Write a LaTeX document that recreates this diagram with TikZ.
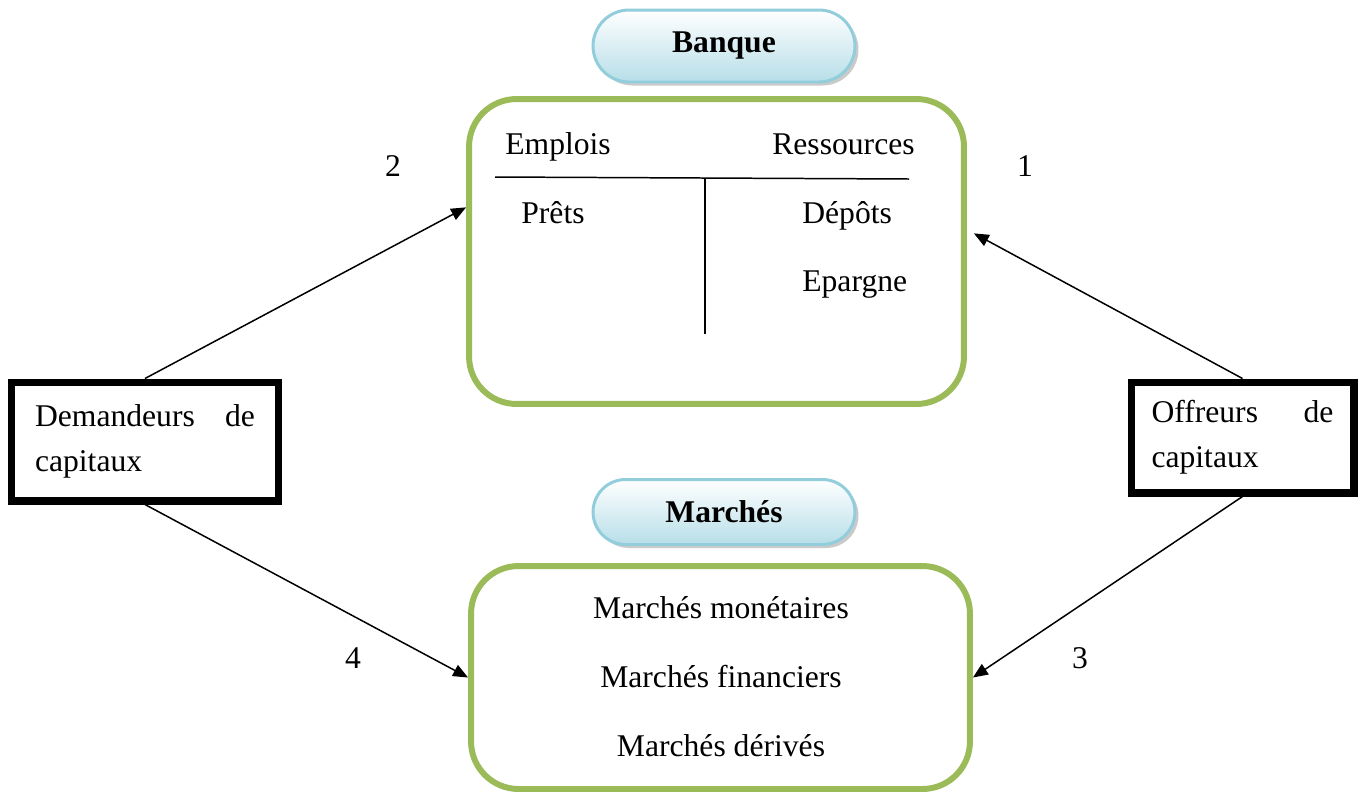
\documentclass[tikz,border=0pt]{standalone}
\usepackage{fontspec}
\setmainfont{Liberation Serif}
\usepackage{tikz}
\usetikzlibrary{arrows.meta,shadows,shapes.misc}
\definecolor{boxgreen}{HTML}{9BBB59}
\definecolor{pillblue}{HTML}{92CDDC}
\definecolor{pillfill}{HTML}{B7DEE8}

\begin{document}
\begin{tikzpicture}[x=0.02cm,y=-0.02cm,
  every node/.style={font=\fontsize{18}{25.5}\selectfont,inner sep=0pt},
  pill/.style={rounded rectangle,draw=pillblue,line width=1.7pt,top color=white,bottom color=pillfill,
    minimum width=5.24cm,font=\fontsize{18}{25.5}\selectfont\bfseries,
    drop shadow={shadow xshift=2pt,shadow yshift=-2pt,fill=black!35,opacity=0.6}},
  tbox/.style={draw=boxgreen,line width=3.4pt,rounded corners=0.95cm},
  actor/.style={draw,line width=4pt,align=left},
  flow/.style={-{Triangle[length=8.5pt,width=7pt]},line width=0.85pt},
  num/.style={anchor=base}]
\useasboundingbox (0,0) rectangle (1359,795);
\node[tbox,minimum width=9.9cm,minimum height=6.1cm] (bank) at (716.5,251.5) {};
\node[tbox,minimum width=9.98cm,minimum height=4.46cm] (mkt) at (720.5,677.5) {};
\node[pill,minimum height=1.44cm] (banque) at (724,46) {Banque};
\node[pill,minimum height=1.3cm] (marches) at (724,512) {Marchés};
\node[anchor=base west] (emplois) at (505,154) {Emplois};
\node[anchor=base west] (ressources) at (772,154) {Ressources};
\node[anchor=base west] (prets) at (521,223) {Prêts};
\node[anchor=base west] (depots) at (802,223) {Dépôts};
\node[anchor=base west] (epargne) at (802,291) {Epargne};
\draw[line width=0.85pt] (495,177) -- (909,179);
\draw[line width=0.85pt] (705,178) -- (705,334);
\node[anchor=base] (monet) at (721,618) {Marchés monétaires};
\node[anchor=base] (financ) at (721,687) {Marchés financiers};
\node[anchor=base] (deriv) at (721,756) {Marchés dérivés};
\node[actor,minimum width=5.36cm,minimum height=2.38cm,text width=4.4cm] (dem) at (145,441.5) {Demandeurs\hfill de\\capitaux};
\node[actor,minimum width=4.46cm,minimum height=2.22cm,text width=3.64cm] (off) at (1242.5,437.5) {Offreurs\hfill de\\capitaux};
\node[num] (n2) at (393,176) {2};
\node[num] (n1) at (1025,176) {1};
\node[num] (n4) at (353,668) {4};
\node[num] (n3) at (1080,668) {3};
\draw[flow] (dem.north) -- (bank.170);
\draw[flow,shorten >=4.5pt] (off.north) -- (bank.5);
\draw[flow] (dem.south) -- (mkt.west);
\draw[flow] (off.south) -- (mkt.east);
\end{tikzpicture}
\end{document}
